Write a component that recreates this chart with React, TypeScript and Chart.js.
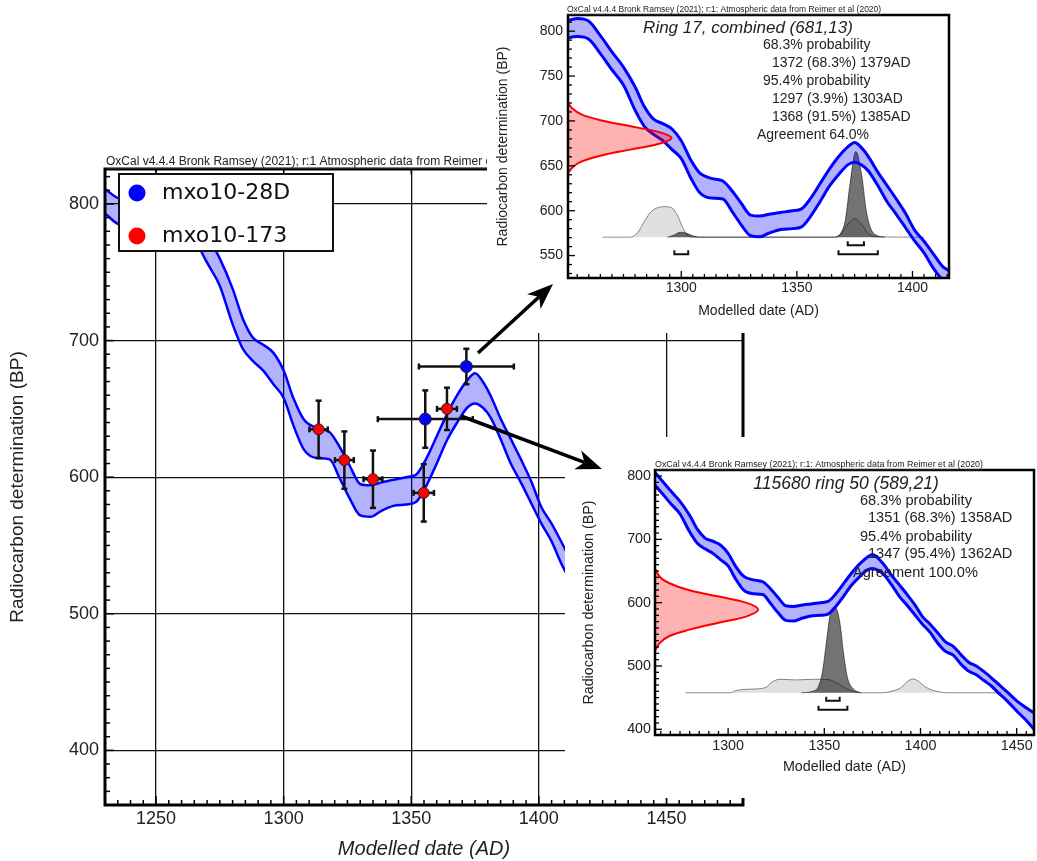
import React, { useEffect, useRef } from 'react';
import { Chart, registerables } from 'chart.js';

Chart.register(...registerables);

const SANS = '"Liberation Sans", Arial, Helvetica, sans-serif';
const LEGEND_FAMILY = '"DejaVu Sans", Verdana, sans-serif';

// ---------------- Calibration curve (upper / lower edge of the band) ----------------
const calYears = [1230, 1236, 1243, 1250, 1255, 1260, 1265, 1270, 1275, 1280, 1284, 1288, 1292, 1296, 1300, 1304, 1308, 1313, 1318, 1322, 1326, 1330, 1334, 1338, 1343, 1348, 1352, 1356, 1360, 1364, 1368, 1372, 1375, 1378, 1381, 1385, 1389, 1393, 1397, 1401, 1405, 1409, 1413, 1417, 1421, 1425, 1429, 1433, 1437, 1441, 1445, 1450, 1455, 1459];
const calUpper = [811, 804, 806, 811, 814, 811, 795, 777, 760, 738, 716, 702, 697, 691, 678, 657, 642, 636, 633, 622, 608, 595, 594, 596, 598, 600, 602, 614, 630, 646, 660, 671, 676, 670, 660, 643, 628, 613, 597, 578, 566, 552, 538, 531, 518, 506, 500, 491, 481, 470, 459, 445, 434, 426];
const calLower = [793, 785, 788, 792, 794, 791, 775, 757, 740, 712, 694, 685, 678, 668, 658, 637, 620, 614, 613, 599, 584, 572, 571, 575, 579, 580, 582, 594, 610, 627, 640, 651, 654, 651, 644, 628, 610, 596, 581, 566, 553, 536, 523, 517, 503, 492, 486, 477, 468, 456, 445, 429, 414, 400];

// ---------------- Main chart measurements ----------------
const blueLabel = 'mxo10-28D';
const blueYears = [1371.6, 1355.5];
const blueBP = [681, 642.5];
const blueYearErr = [18.6, 18.6];
const blueBPErr = [13, 21];

const redLabel = 'mxo10-173';
const redYears = [1313.7, 1323.8, 1335.0, 1354.9, 1364.0];
const redBP = [635, 612.5, 598.5, 588.5, 650];
const redYearErr = [3.6, 3.7, 3.7, 4.0, 3.9];
const redBPErr = [21, 21, 21, 21, 15.5];

const mainXTicks = [1250, 1300, 1350, 1400, 1450];
const mainYTicks = [400, 500, 600, 700, 800];

const oxcalHeader = 'OxCal v4.4.4 Bronk Ramsey (2021); r:1 Atmospheric data from Reimer et al (2020)';
const insetHeader = 'OxCal v4.4.4 Bronk Ramsey (2021); r:1: Atmospheric data from Reimer et al (2020)';

// ---------------- Inset 1: Ring 17, combined ----------------
const ring17XTicks = [1300, 1350, 1400];
const ring17YTicks = [550, 600, 650, 700, 750, 800];
const ring17Title = 'Ring 17, combined (681,13)';
const ring17Lines = ['68.3% probability', '1372 (68.3%) 1379AD', '95.4% probability', '1297 (3.9%) 1303AD', '1368 (91.5%) 1385AD', 'Agreement 64.0%'];
const ring17RadioBP = [720, 713.5, 707, 700.5, 694, 687.5, 681, 674.5, 668, 661.5, 655, 648.5, 642];
const ring17RadioYear = [1251, 1253, 1257, 1265.5, 1278, 1290.4, 1295.8, 1290.4, 1278, 1265.5, 1257, 1253, 1251];
const ring17Baseline = 570.5;
const ring17LikeYears = [1266, 1278, 1281, 1284, 1287, 1290, 1293, 1296, 1298.5, 1300.5, 1302.5, 1305, 1366, 1369, 1372, 1375, 1378, 1381, 1384, 1405];
const ring17LikeBP = [570.5, 570.5, 575, 588, 599, 603.5, 604.5, 603, 594, 582, 573, 570.5, 570.5, 574, 585, 591, 585, 574, 571, 570.5];
const ring17PostYears = [1294, 1297, 1299.5, 1302, 1305, 1308, 1366, 1369, 1371, 1373, 1375.5, 1378, 1380, 1382, 1385, 1388];
const ring17PostBP = [570.5, 573, 576, 575, 572, 570.5, 570.5, 575, 590, 630, 666, 640, 600, 580, 572, 570.5];
const ring17RangeFrom = [1372, 1297, 1368];
const ring17RangeTo = [1379, 1303, 1385];
const ring17RangeLevel = ['68', '95', '95'];

// ---------------- Inset 2: 115680 ring 50 ----------------
const ring50XTicks = [1300, 1350, 1400, 1450];
const ring50YTicks = [400, 500, 600, 700, 800];
const ring50Title = '115680 ring 50 (589,21)';
const ring50Lines = ['68.3% probability', '1351 (68.3%) 1358AD', '95.4% probability', '1347 (95.4%) 1362AD', 'Agreement 100.0%'];
const ring50RadioBP = [654, 641, 631, 620, 610, 600, 589, 578, 568, 557, 547, 536, 524];
const ring50RadioYear = [1262, 1264.4, 1269.2, 1279.4, 1294.5, 1309.3, 1315.6, 1309.3, 1294.5, 1279.4, 1269.2, 1264.4, 1262];
const ring50Baseline = 457.7;
const ring50LikeYears = [1278, 1301, 1304, 1308, 1316, 1320, 1323, 1327, 1335, 1345, 1352, 1356, 1360, 1364, 1368, 1380, 1386, 1390, 1393, 1396, 1399, 1402, 1406, 1410, 1414, 1442];
const ring50LikeBP = [457.7, 457.7, 461, 463, 464, 467, 475, 479, 478, 479, 478.5, 474, 467, 461, 457.7, 457.7, 461, 466, 475, 479.5, 476, 468, 462, 459, 457.7, 457.7];
const ring50PostYears = [1338, 1344, 1347, 1349, 1351, 1353, 1355.5, 1358, 1360, 1362, 1365, 1369];
const ring50PostBP = [457.7, 460, 468, 490, 535, 580, 593.5, 570, 520, 482, 464, 457.7];
const ring50RangeFrom = [1351, 1347];
const ring50RangeTo = [1358, 1362];
const ring50RangeLevel = ['68', '95'];

// ---------------- helpers ----------------
const pts = (xs: number[], ys: number[]) => xs.map((x, i) => ({ x, y: ys[i] }));

function line(ctx: CanvasRenderingContext2D, x1: number, y1: number, x2: number, y2: number) {
  ctx.beginPath();
  ctx.moveTo(x1, y1);
  ctx.lineTo(x2, y2);
  ctx.stroke();
}

const errorBarPlugin = {
  id: 'errorBars',
  beforeDatasetDraw(chart: any, args: any) {
    const ds = chart.data.datasets[args.index];
    if (!ds.xErr) return;
    const ctx = chart.ctx as CanvasRenderingContext2D;
    const xs = chart.scales.x;
    const ys = chart.scales.y;
    ctx.save();
    ctx.strokeStyle = '#111';
    ctx.lineWidth = 2.5;
    ds.data.forEach((p: any, i: number) => {
      const cx = xs.getPixelForValue(p.x);
      const cy = ys.getPixelForValue(p.y);
      const x0 = xs.getPixelForValue(p.x - ds.xErr[i]);
      const x1 = xs.getPixelForValue(p.x + ds.xErr[i]);
      const y0 = ys.getPixelForValue(p.y - ds.yErr[i]);
      const y1 = ys.getPixelForValue(p.y + ds.yErr[i]);
      line(ctx, x0, cy, x1, cy);
      line(ctx, cx, y0, cx, y1);
      line(ctx, x0, cy - 3, x0, cy + 3);
      line(ctx, x1, cy - 3, x1, cy + 3);
      line(ctx, cx - 3, y0, cx + 3, y0);
      line(ctx, cx - 3, y1, cx + 3, y1);
    });
    ctx.restore();
  },
};

type TextItem = { text: string; x: number; y: number; size: number; italic?: boolean; align?: CanvasTextAlign; underline?: boolean; family?: string };

function makeDecor(cfg: any) {
  return {
    id: cfg.id,
    afterDraw(chart: any) {
      const ctx = chart.ctx as CanvasRenderingContext2D;
      const { left, right, top, bottom } = chart.chartArea;
      const xs = chart.scales.x;
      const ys = chart.scales.y;
      ctx.save();
      // probability range brackets
      if (cfg.rangeFrom) {
        const base = ys.getPixelForValue(cfg.baseline);
        ctx.strokeStyle = '#111';
        ctx.lineWidth = 2;
        cfg.rangeFrom.forEach((f: number, i: number) => {
          const yy = base + (cfg.rangeLevel[i] === '68' ? 8 : 17);
          const x0 = xs.getPixelForValue(f);
          const x1 = xs.getPixelForValue(cfg.rangeTo[i]);
          ctx.beginPath();
          ctx.moveTo(x0, yy - 4);
          ctx.lineTo(x0, yy);
          ctx.lineTo(x1, yy);
          ctx.lineTo(x1, yy - 4);
          ctx.stroke();
        });
      }
      // ticks
      ctx.strokeStyle = '#000';
      ctx.lineWidth = cfg.tickWidth;
      const sides: string[] = cfg.sides;
      for (let v = Math.ceil(xs.min / cfg.xMinor) * cfg.xMinor; v <= xs.max + 1e-6; v += cfg.xMinor) {
        const major = Math.abs(v / cfg.xMajor - Math.round(v / cfg.xMajor)) < 1e-6;
        const len = major ? cfg.majorLen : cfg.minorLen;
        const px = xs.getPixelForValue(v);
        if (sides.includes('bottom')) line(ctx, px, bottom, px, bottom - len);
        if (sides.includes('top') && major) line(ctx, px, top, px, top + len * 0.6);
      }
      for (let v = Math.ceil(ys.min / cfg.yMinor) * cfg.yMinor; v <= ys.max + 1e-6; v += cfg.yMinor) {
        const major = Math.abs(v / cfg.yMajor - Math.round(v / cfg.yMajor)) < 1e-6;
        const len = major ? cfg.majorLen : cfg.minorLen;
        const py = ys.getPixelForValue(v);
        if (sides.includes('left')) line(ctx, left, py, left + len, py);
      }
      // frame
      ctx.lineWidth = cfg.frameWidth;
      ctx.strokeRect(left, top, right - left, bottom - top);
      // texts
      (cfg.texts as TextItem[]).forEach((t) => {
        ctx.font = `${t.italic ? 'italic ' : ''}${t.size}px ${t.family || SANS}`;
        ctx.fillStyle = '#222';
        ctx.textAlign = t.align || 'left';
        ctx.textBaseline = 'middle';
        ctx.fillText(t.text, t.x, t.y);
        if (t.underline) {
          const w = ctx.measureText(t.text).width;
          ctx.strokeStyle = '#333';
          ctx.lineWidth = 0.8;
          line(ctx, t.x, t.y + t.size * 0.55, t.x + w, t.y + t.size * 0.55);
        }
      });
      // legend
      if (cfg.legend) {
        const L = cfg.legend;
        const items = chart.data.datasets.filter((d: any) => d.inLegend);
        ctx.fillStyle = '#fff';
        ctx.fillRect(L.x, L.y, L.w, L.h);
        ctx.strokeStyle = '#111';
        ctx.lineWidth = 2;
        ctx.strokeRect(L.x, L.y, L.w, L.h);
        items.forEach((d: any, i: number) => {
          const cy = L.y + 19 + i * 43;
          ctx.beginPath();
          ctx.arc(L.x + 18, cy, 8.5, 0, Math.PI * 2);
          ctx.fillStyle = d.pointBackgroundColor;
          ctx.fill();
          ctx.font = `22px ${LEGEND_FAMILY}`;
          ctx.fillStyle = '#111';
          ctx.textAlign = 'left';
          ctx.textBaseline = 'middle';
          ctx.fillText(d.label, L.x + 43, cy);
        });
      }
      ctx.restore();
    },
  };
}

const tickList = (list: number[]) => (s: any) => {
  s.ticks = list.map((v) => ({ value: v }));
};

function mainConfig(): any {
  return {
    type: 'line',
    data: {
      datasets: [
        {
          label: blueLabel, inLegend: true, data: pts(blueYears, blueBP), showLine: false,
          pointRadius: 6, pointBackgroundColor: '#0000ff', pointBorderColor: '#222', pointBorderWidth: 1,
          xErr: blueYearErr, yErr: blueBPErr,
        },
        {
          label: redLabel, inLegend: true, data: pts(redYears, redBP), showLine: false,
          pointRadius: 5.5, pointBackgroundColor: '#ff0000', pointBorderColor: '#222', pointBorderWidth: 1,
          xErr: redYearErr, yErr: redBPErr,
        },
        {
          label: 'upper', data: pts(calYears, calUpper), borderColor: '#0000ff', borderWidth: 2.5, pointRadius: 0,
          fill: '+1', backgroundColor: 'rgba(0,0,255,0.3)', tension: 0.4, cubicInterpolationMode: 'monotone',
        },
        {
          label: 'lower', data: pts(calYears, calLower), borderColor: '#0000ff', borderWidth: 2.5, pointRadius: 0,
          fill: false, tension: 0.4, cubicInterpolationMode: 'monotone',
        },
      ],
    },
    options: {
      animation: false,
      responsive: false,
      devicePixelRatio: 1,
      layout: { padding: { left: 0, top: 169, right: 294, bottom: 0 }, autoPadding: false },
      plugins: { legend: { display: false }, tooltip: { enabled: false } },
      scales: {
        x: {
          type: 'linear', min: 1230, max: 1480,
          afterFit: (s: any) => { s.height = 56; },
          afterBuildTicks: tickList(mainXTicks),
          grid: { color: '#111', lineWidth: 1.3, drawTicks: false },
          border: { display: false },
          ticks: { padding: 3, autoSkip: false, maxRotation: 0, color: '#222', font: { size: 18, family: SANS }, callback: (v: any) => String(v) },
          title: { display: true, text: 'Modelled date (AD)', color: '#222', font: { size: 20, style: 'italic', family: SANS }, padding: { top: 0, bottom: 0 } },
        },
        y: {
          type: 'linear', min: 360, max: 825.6,
          afterFit: (s: any) => { s.width = 105; },
          afterBuildTicks: tickList(mainYTicks),
          grid: { color: '#111', lineWidth: 1.3, drawTicks: false },
          border: { display: false },
          ticks: { padding: 6, color: '#222', font: { size: 18, family: SANS }, callback: (v: any) => String(v) },
          title: { display: true, text: 'Radiocarbon determination (BP)', color: '#222', font: { size: 19, family: SANS }, padding: { top: 6, bottom: 0 } },
        },
      },
    },
    plugins: [
      errorBarPlugin,
      makeDecor({
        id: 'mainDecor', sides: ['left', 'bottom', 'top'], tickWidth: 1.5, frameWidth: 3,
        xMinor: 5, xMajor: 50, yMinor: 10, yMajor: 100, majorLen: 9, minorLen: 5,
        texts: [{ text: oxcalHeader, x: 106, y: 162, size: 12, underline: true }],
        legend: { x: 119, y: 174, w: 214, h: 77 },
      }),
    ],
  };
}

function insetConfig(p: any): any {
  return {
    type: 'line',
    data: {
      datasets: [
        {
          label: 'radiocarbon', data: pts(p.radioYear, p.radioBP), borderColor: '#ff0000', borderWidth: 2,
          backgroundColor: 'rgba(255,0,0,0.3)', fill: 'shape', pointRadius: 0, tension: 0.35,
        },
        {
          label: 'upper', data: pts(calYears, calUpper), borderColor: '#0000ff', borderWidth: 3, pointRadius: 0,
          fill: '+1', backgroundColor: 'rgba(0,0,255,0.3)', tension: 0.4, cubicInterpolationMode: 'monotone',
        },
        {
          label: 'lower', data: pts(calYears, calLower), borderColor: '#0000ff', borderWidth: 3, pointRadius: 0,
          fill: false, tension: 0.4, cubicInterpolationMode: 'monotone',
        },
        {
          label: 'posterior', data: pts(p.postYears, p.postBP), borderColor: 'rgba(0,0,0,0.55)', borderWidth: 1,
          backgroundColor: 'rgba(0,0,0,0.55)', fill: { value: p.baseline }, pointRadius: 0, tension: 0.4, cubicInterpolationMode: 'monotone',
        },
        {
          label: 'likelihood', data: pts(p.likeYears, p.likeBP), borderColor: 'rgba(0,0,0,0.45)', borderWidth: 1,
          backgroundColor: 'rgba(0,0,0,0.12)', fill: { value: p.baseline }, pointRadius: 0, tension: 0.4, cubicInterpolationMode: 'monotone',
        },
      ],
    },
    options: {
      animation: false,
      responsive: false,
      devicePixelRatio: 1,
      layout: { padding: { left: 0, top: p.areaTop, right: p.canvasW - p.areaRight, bottom: 0 }, autoPadding: false },
      plugins: { legend: { display: false }, tooltip: { enabled: false } },
      scales: {
        x: {
          type: 'linear', min: p.xMin, max: p.xMax,
          afterFit: (s: any) => { s.height = p.canvasH - p.areaBottom; },
          afterBuildTicks: tickList(p.xTicks),
          grid: { display: false, drawTicks: false },
          border: { display: false },
          ticks: { padding: 2, autoSkip: false, maxRotation: 0, color: '#222', font: { size: p.font, family: SANS }, callback: (v: any) => String(v) },
          title: { display: true, text: 'Modelled date (AD)', color: '#222', font: { size: p.font, family: SANS }, padding: { top: 0, bottom: p.xTitlePad } },
        },
        y: {
          type: 'linear', min: p.yMin, max: p.yMax,
          afterFit: (s: any) => { s.width = p.areaLeft; },
          afterBuildTicks: tickList(p.yTicks),
          grid: { display: false, drawTicks: false },
          border: { display: false },
          ticks: { padding: p.yTickPad, color: '#222', font: { size: p.font, family: SANS }, callback: (v: any) => String(v) },
          title: { display: true, text: 'Radiocarbon determination (BP)', color: '#222', font: { size: p.font, family: SANS }, padding: { top: p.yTitlePad, bottom: 0 } },
        },
      },
    },
    plugins: [
      makeDecor({
        id: 'insetDecor', sides: ['left', 'bottom'], tickWidth: 1.3, frameWidth: 2.5,
        xMinor: 5, xMajor: 50, yMinor: 10, yMajor: p.yMajor, majorLen: 7, minorLen: 4,
        rangeFrom: p.rangeFrom, rangeTo: p.rangeTo, rangeLevel: p.rangeLevel, baseline: p.baseline,
        texts: p.texts,
      }),
    ],
  };
}

const ring17Spec = {
  canvasW: 550, canvasH: 333, areaLeft: 81, areaTop: 15, areaRight: 462, areaBottom: 278, font: 14,
  xMin: 1251, xMax: 1415.8, yMin: 525, yMax: 818, xTicks: ring17XTicks, yTicks: ring17YTicks, yMajor: 50,
  xTitlePad: 13, yTitlePad: 7.6, yTickPad: 5,
  radioYear: ring17RadioYear, radioBP: ring17RadioBP, baseline: ring17Baseline,
  likeYears: ring17LikeYears, likeBP: ring17LikeBP, postYears: ring17PostYears, postBP: ring17PostBP,
  rangeFrom: ring17RangeFrom, rangeTo: ring17RangeTo, rangeLevel: ring17RangeLevel,
  texts: [
    { text: insetHeader, x: 80, y: 10, size: 8.5, underline: true },
    { text: ring17Title, x: 261, y: 28, size: 17, italic: true, align: 'center' },
    { text: ring17Lines[0], x: 276, y: 45, size: 14 },
    { text: ring17Lines[1], x: 285, y: 63, size: 14 },
    { text: ring17Lines[2], x: 276, y: 81, size: 14 },
    { text: ring17Lines[3], x: 285, y: 99, size: 14 },
    { text: ring17Lines[4], x: 285, y: 117, size: 14 },
    { text: ring17Lines[5], x: 270, y: 135, size: 14 },
  ],
};

const ring50Spec = {
  canvasW: 472, canvasH: 361, areaLeft: 90, areaTop: 33, areaRight: 469, areaBottom: 298, font: 14.3,
  xMin: 1262, xMax: 1459, yMin: 391, yMax: 809.5, xTicks: ring50XTicks, yTicks: ring50YTicks, yMajor: 100,
  xTitlePad: 22, yTitlePad: 15, yTickPad: 4,
  radioYear: ring50RadioYear, radioBP: ring50RadioBP, baseline: ring50Baseline,
  likeYears: ring50LikeYears, likeBP: ring50LikeBP, postYears: ring50PostYears, postBP: ring50PostBP,
  rangeFrom: ring50RangeFrom, rangeTo: ring50RangeTo, rangeLevel: ring50RangeLevel,
  texts: [
    { text: insetHeader, x: 90, y: 28, size: 8.9, underline: true },
    { text: ring50Title, x: 281, y: 47, size: 17.5, italic: true, align: 'center' },
    { text: ring50Lines[0], x: 295, y: 64, size: 14.6 },
    { text: ring50Lines[1], x: 303, y: 81, size: 14.6 },
    { text: ring50Lines[2], x: 295, y: 100, size: 14.6 },
    { text: ring50Lines[3], x: 303, y: 117, size: 14.6 },
    { text: ring50Lines[4], x: 288, y: 136, size: 14.6 },
  ],
};

function arrowPath(x1: number, y1: number, x2: number, y2: number) {
  const dx = x2 - x1;
  const dy = y2 - y1;
  const d = Math.hypot(dx, dy);
  const ux = dx / d;
  const uy = dy / d;
  const nx = -uy;
  const ny = ux;
  const len = 26;
  const half = 10;
  const bx = x2 - ux * len;
  const by = y2 - uy * len;
  const notchX = x2 - ux * len * 0.72;
  const notchY = y2 - uy * len * 0.72;
  return {
    shaft: `M${x1},${y1} L${notchX},${notchY}`,
    head: `M${x2},${y2} L${bx + nx * half},${by + ny * half} L${notchX},${notchY} L${bx - nx * half},${by - ny * half} Z`,
  };
}

const arrow1 = arrowPath(478, 353, 553, 284);
const arrow2 = arrowPath(461, 416, 602, 469);

export default function App() {
  const mainRef = useRef<HTMLCanvasElement>(null);
  const topRef = useRef<HTMLCanvasElement>(null);
  const botRef = useRef<HTMLCanvasElement>(null);

  useEffect(() => {
    const charts = [
      new Chart(mainRef.current as HTMLCanvasElement, mainConfig()),
      new Chart(topRef.current as HTMLCanvasElement, insetConfig(ring17Spec)),
      new Chart(botRef.current as HTMLCanvasElement, insetConfig(ring50Spec)),
    ];
    return () => charts.forEach((c) => c.destroy());
  }, []);

  return (
    <div style={{ position: 'fixed', left: 0, top: 0, width: 1037, height: 861, background: '#fff', overflow: 'hidden' }}>
      <canvas ref={mainRef} width={1037} height={861} style={{ position: 'absolute', left: 0, top: 0, width: 1037, height: 861 }} />
      <canvas ref={topRef} width={550} height={333} style={{ position: 'absolute', left: 487, top: 0, width: 550, height: 333, background: '#fff' }} />
      <canvas ref={botRef} width={472} height={361} style={{ position: 'absolute', left: 565, top: 437, width: 472, height: 361, background: '#fff' }} />
      <svg width={1037} height={861} style={{ position: 'absolute', left: 0, top: 0, pointerEvents: 'none' }}>
        <path d={arrow1.shaft} stroke="#000" strokeWidth={3.5} fill="none" />
        <path d={arrow1.head} fill="#000" />
        <path d={arrow2.shaft} stroke="#000" strokeWidth={3.5} fill="none" />
        <path d={arrow2.head} fill="#000" />
      </svg>
    </div>
  );
}
